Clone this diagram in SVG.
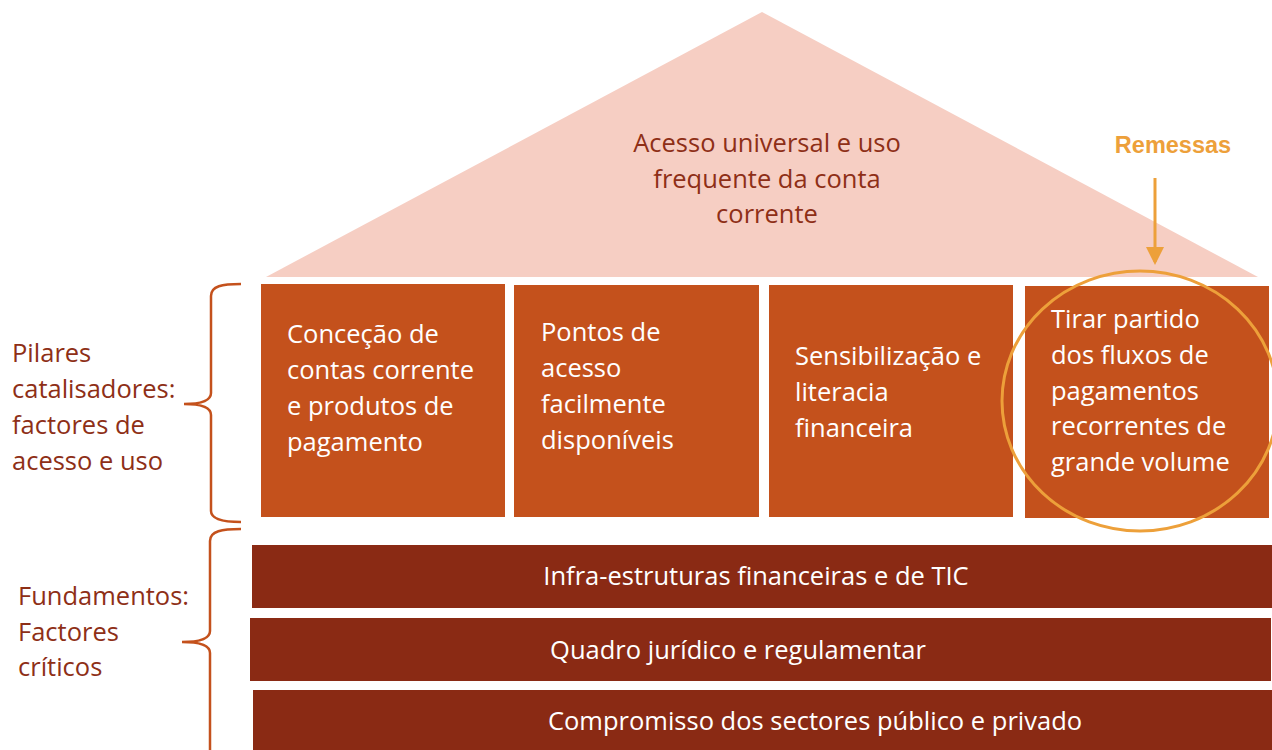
<svg xmlns="http://www.w3.org/2000/svg" width="1272" height="750" viewBox="0 0 1272 750">
<style>
text{font-family:"Open Sans","Liberation Sans",sans-serif;font-size:25.5px}
.w{fill:#ffffff}
.d{fill:#8E2F17}
.pillar{fill:#C4511C}
.bar{fill:#8A2A14}
.brace{fill:none;stroke:#C4511C;stroke-width:2.5}
.hl{fill:none;stroke:#EDA03A;stroke-width:3}
</style>
<defs>
<marker id="ah" markerWidth="6" markerHeight="6" refX="5" refY="3" orient="auto" markerUnits="strokeWidth">
<path d="M0,0 L6,3 L0,6 Z" fill="#EDA03A"/>
</marker>
</defs>
<rect width="1272" height="750" fill="#ffffff"/>
<g id="roof">
<polygon points="762,12 266,277 1258,277" fill="#F6CEC3"/>
<text class="d" text-anchor="middle"><tspan x="767" y="152">Acesso universal e uso</tspan><tspan x="767" y="188">frequente da conta</tspan><tspan x="767" y="223">corrente</tspan></text>
</g>
<g id="pillar1">
<rect class="pillar" x="261" y="284" width="244" height="233"/>
<text class="w"><tspan x="287" y="343">Conceção de</tspan><tspan x="287" y="379">contas corrente</tspan><tspan x="287" y="415">e produtos de</tspan><tspan x="287" y="451">pagamento</tspan></text>
</g>
<g id="pillar2">
<rect class="pillar" x="514" y="285" width="245" height="232"/>
<text class="w"><tspan x="541" y="341">Pontos de</tspan><tspan x="541" y="377">acesso</tspan><tspan x="541" y="413">facilmente</tspan><tspan x="541" y="449">disponíveis</tspan></text>
</g>
<g id="pillar3">
<rect class="pillar" x="769" y="285" width="244" height="232"/>
<text class="w"><tspan x="795" y="365">Sensibilização e</tspan><tspan x="795" y="401">literacia</tspan><tspan x="795" y="437">financeira</tspan></text>
</g>
<g id="pillar4">
<rect class="pillar" x="1025" y="286" width="244" height="232"/>
<text class="w"><tspan x="1051" y="328">Tirar partido</tspan><tspan x="1051" y="364">dos fluxos de</tspan><tspan x="1051" y="400">pagamentos</tspan><tspan x="1051" y="435">recorrentes de</tspan><tspan x="1051" y="471">grande volume</tspan></text>
</g>
<g id="bar1">
<rect class="bar" x="252" y="545" width="1020" height="63"/>
<text class="w" text-anchor="middle" x="756" y="585">Infra-estruturas financeiras e de TIC</text>
</g>
<g id="bar2">
<rect class="bar" x="250" y="618" width="1021" height="63"/>
<text class="w" text-anchor="middle" x="738" y="659">Quadro jurídico e regulamentar</text>
</g>
<g id="bar3">
<rect class="bar" x="253" y="690" width="1019" height="62"/>
<text class="w" text-anchor="middle" x="815" y="730">Compromisso dos sectores público e privado</text>
</g>
<g id="label-pilares">
<text class="d"><tspan x="12" y="362">Pilares</tspan><tspan x="12" y="398">catalisadores:</tspan><tspan x="12" y="434">factores de</tspan><tspan x="12" y="470">acesso e uso</tspan></text>
</g>
<g id="label-fundamentos">
<text class="d"><tspan x="18" y="605">Fundamentos:</tspan><tspan x="18" y="641">Factores</tspan><tspan x="18" y="676">críticos</tspan></text>
</g>
<g id="remessas">
<text x="1173" y="153" text-anchor="middle" style="font-family:'Liberation Sans',sans-serif;font-weight:bold;font-size:23.5px;fill:#EDA03A">Remessas</text>
</g>
<g id="connectors">
<path class="brace" d="M241,284 C222,284 211,286 211,296 L211,393 C211,401 200,404 184,404 C200,404 211,407 211,415 L211,511 C211,519 222,522 241,522"/>
<path class="brace" d="M241,529 C222,529 210,531 210,541 L210,631 C210,639 199,642 182,642 C199,642 210,645 210,653 L210,760"/>
<line x1="1155" y1="178" x2="1155" y2="262" stroke="#EDA03A" stroke-width="3" marker-end="url(#ah)"/>
<ellipse class="hl" cx="1140" cy="401" rx="138" ry="130"/>
</g>
</svg>
